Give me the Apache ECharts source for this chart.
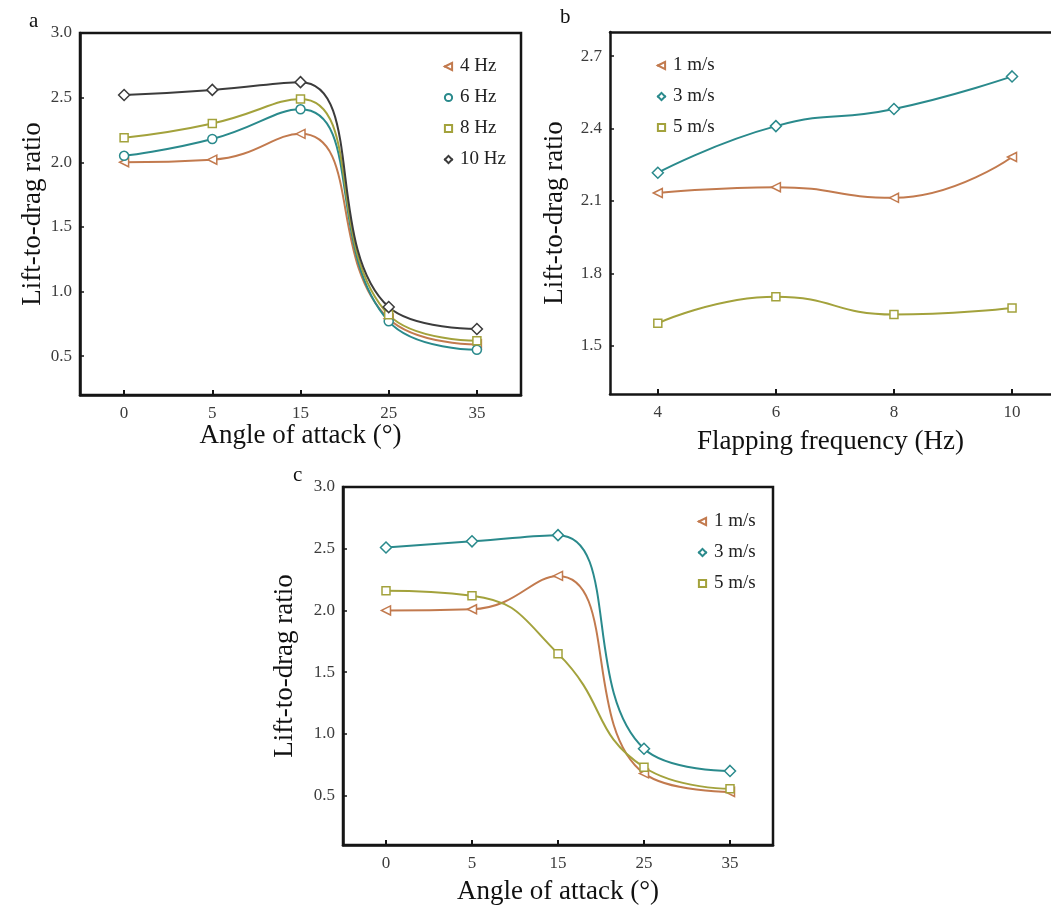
<!DOCTYPE html>
<html>
<head>
<meta charset="utf-8">
<script src="https://cdn.jsdelivr.net/npm/echarts@6/dist/echarts.min.js"></script>
<style>
html,body{margin:0;padding:0;background:#fff;}
#c{width:1051px;height:906px;}
</style>
</head>
<body>
<div id="c"></div>
<script>
// ---------- data ----------
const anglesA = ['0', '5', '15', '25', '35'];
const hz4  = [2.00, 2.02, 2.22, 0.79, 0.59];
const hz6  = [2.05, 2.18, 2.41, 0.77, 0.55];
const hz8  = [2.19, 2.30, 2.49, 0.82, 0.62];
const hz10 = [2.52, 2.56, 2.62, 0.88, 0.71];

const freqB = [4, 6, 8, 10];
const b1 = [2.133, 2.157, 2.113, 2.282];
const b3 = [2.217, 2.410, 2.481, 2.616];
const b5 = [1.593, 1.703, 1.629, 1.656];

const anglesC = ['0', '5', '15', '25', '35'];
const c1 = [2.00, 2.01, 2.28, 0.68, 0.53];
const c3 = [2.51, 2.56, 2.61, 0.88, 0.70];
const c5 = [2.16, 2.12, 1.65, 0.73, 0.555];

const yTicksA = [0.5, 1.0, 1.5, 2.0, 2.5, 3.0];
const yTicksB = [1.5, 1.8, 2.1, 2.4, 2.7];
const xTicksB = [4, 6, 8, 10];
const yTicksC = [0.5, 1.0, 1.5, 2.0, 2.5, 3.0];

// ---------- style ----------
const FONT = '"Liberation Serif", "DejaVu Serif", serif';
const COL = {brown:'#c27a4e', teal:'#2a8a8c', olive:'#a3a23c', gray:'#3c3c3c'};
const AX = '#151515';
const SYM = {
  tri: 'path://M0,5 L9,0 L9,10 Z',
  circle: 'circle',
  square: 'rect',
  diamond: 'diamond'
};

function mkSeries(name, data, color, sym, size, xi, yi) {
  return {
    name, type:'line', data, smooth:0.5,
    xAxisIndex:xi, yAxisIndex:yi,
    symbol:sym, symbolSize:size, showSymbol:true,
    lineStyle:{color, width:2},
    itemStyle:{color:'#fff', borderColor:color, borderWidth:1.5},
    emphasis:{disabled:true},
    z: 3
  };
}

function catX(gi, data, nameGap) {
  return {
    type:'category', gridIndex:gi, data, boundaryGap:true,
    name:'Angle of attack (°)', nameLocation:'middle', nameGap,
    nameTextStyle:{fontFamily:FONT, fontSize:27, color:'#111'},
    axisLine:{show:true, lineStyle:{color:AX, width:2.5}},
    axisTick:{show:true, inside:true, alignWithLabel:true, length:5, lineStyle:{color:AX, width:2}},
    axisLabel:{fontFamily:FONT, fontSize:17, color:'#3c3c3c', margin:10},
    splitLine:{show:false}
  };
}
function valY(gi, min, max, ticks, nameGap) {
  return {
    type:'value', gridIndex:gi, min, max,
    name:'Lift-to-drag ratio', nameLocation:'middle', nameGap,
    nameTextStyle:{fontFamily:FONT, fontSize:27, color:'#111'},
    axisLine:{show:true, lineStyle:{color:AX, width:2.5}},
    axisTick:{show:true, inside:true, length:4, customValues:ticks, lineStyle:{color:AX, width:1.5}},
    axisLabel:{fontFamily:FONT, fontSize:17, color:'#3c3c3c', margin:8, customValues:ticks,
      formatter: v => v.toFixed(1)},
    splitLine:{show:false}
  };
}
function legend(left, top, names) {
  return {
    orient:'vertical', left, top, data:names,
    itemWidth:9, itemHeight:9, itemGap:12,
    textStyle:{fontFamily:FONT, fontSize:19, color:'#222', padding:[0,0,0,2]},
    selectedMode:false, inactiveColor:'#ccc'
  };
}

const B_MIN = 3.19, B_MAX = 10.66;

const option = {
  animation:false,
  backgroundColor:'#fff',
  title:[
    {text:'a', left:24, top:6, textStyle:{fontFamily:FONT, fontSize:21, fontWeight:'normal', color:'#111'}},
    {text:'b', left:555, top:2, textStyle:{fontFamily:FONT, fontSize:21, fontWeight:'normal', color:'#111'}},
    {text:'c', left:288, top:460, textStyle:{fontFamily:FONT, fontSize:21, fontWeight:'normal', color:'#111'}}
  ],
  grid:[
    {left:80, top:33, width:441, height:362, show:true, borderColor:AX, borderWidth:2.5, backgroundColor:'transparent'},
    {left:610, top:32, width:441, height:362, show:false},
    {left:343, top:487, width:430, height:360, show:true, borderColor:AX, borderWidth:2.5, backgroundColor:'transparent'}
  ],
  xAxis:[
    catX(0, anglesA, 20),
    {
      type:'value', gridIndex:1, min:B_MIN, max:B_MAX,
      name:'Flapping frequency (Hz)', nameLocation:'middle', nameGap:34,
      nameTextStyle:{fontFamily:FONT, fontSize:27, color:'#111'},
      axisLine:{show:true, lineStyle:{color:AX, width:2.5}},
      axisTick:{show:true, inside:true, length:5, customValues:xTicksB, lineStyle:{color:AX, width:2}},
      axisLabel:{fontFamily:FONT, fontSize:17, color:'#3c3c3c', margin:10, customValues:xTicksB},
      splitLine:{show:false}
    },
    catX(2, anglesC, 33),
    {
      type:'value', gridIndex:1, position:'top', min:B_MIN, max:B_MAX,
      axisLine:{show:true, lineStyle:{color:AX, width:2.5}},
      axisTick:{show:false}, axisLabel:{show:false}, splitLine:{show:false}
    }
  ],
  yAxis:[
    valY(0, 0.2, 3.0, yTicksA, 34),
    valY(1, 1.3, 2.8, yTicksB, 42),
    valY(2, 0.1, 3.0, yTicksC, 45)
  ],
  legend:[
    legend(438, 52, ['4 Hz','6 Hz','8 Hz','10 Hz']),
    legend(651, 51, ['1 m/s','3 m/s','5 m/s']),
    legend(692, 507, ['1 m/s','3 m/s','5 m/s'])
  ],
  series:[
    mkSeries('4 Hz', hz4, COL.brown, SYM.tri, 9, 0, 0),
    mkSeries('6 Hz', hz6, COL.teal, SYM.circle, 9, 0, 0),
    mkSeries('8 Hz', hz8, COL.olive, SYM.square, 8, 0, 0),
    mkSeries('10 Hz', hz10, COL.gray, SYM.diamond, 11, 0, 0),
    mkSeries('1 m/s', freqB.map((f,i)=>[f,b1[i]]), COL.brown, SYM.tri, 9, 1, 1),
    mkSeries('3 m/s', freqB.map((f,i)=>[f,b3[i]]), COL.teal, SYM.diamond, 11, 1, 1),
    mkSeries('5 m/s', freqB.map((f,i)=>[f,b5[i]]), COL.olive, SYM.square, 8, 1, 1),
    mkSeries('1 m/s', c1, COL.brown, SYM.tri, 9, 2, 2),
    mkSeries('3 m/s', c3, COL.teal, SYM.diamond, 11, 2, 2),
    mkSeries('5 m/s', c5, COL.olive, SYM.square, 8, 2, 2)
  ]
};
const chart = echarts.init(document.getElementById('c'), null, {renderer:'canvas'});
chart.setOption(option);
</script>
</body>
</html>
